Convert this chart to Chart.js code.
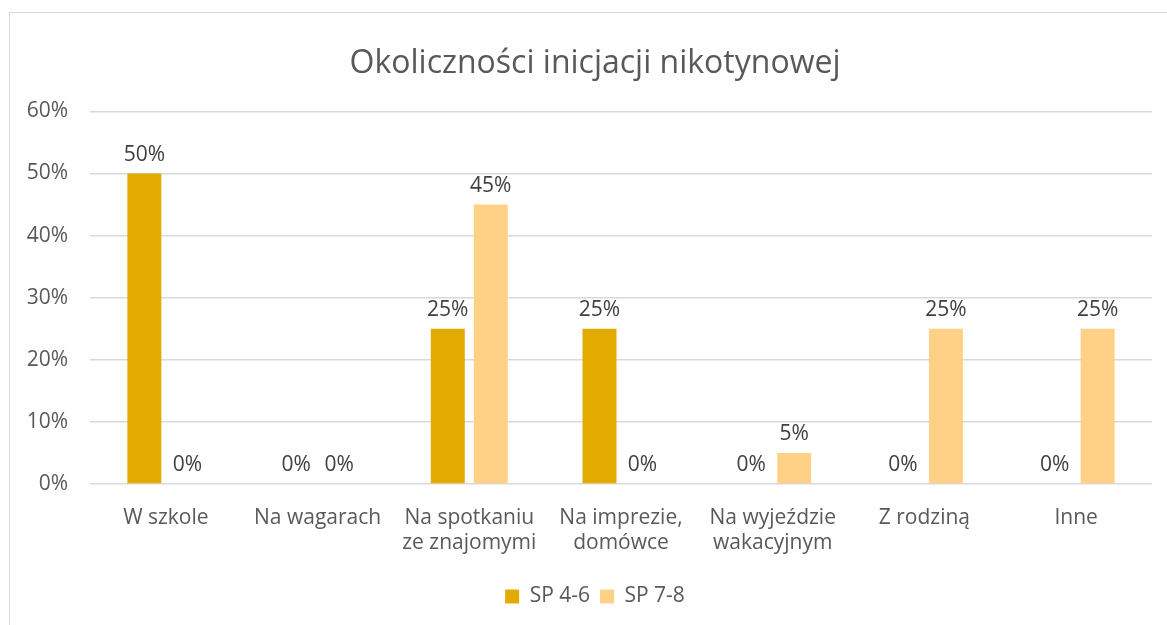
<!DOCTYPE html>
<html>
<head>
<meta charset="utf-8">
<script src="https://cdn.jsdelivr.net/npm/chart.js@4"></script>
<style>
  html, body { margin: 0; padding: 0; background: #fff; overflow: hidden; }
  #frame {
    position: absolute; left: 9px; top: 12px;
    width: 1170px; height: 612px;
    border: 1px solid #d9d9d9;
  }
</style>
</head>
<body>
<div id="frame"><canvas id="myChart"></canvas></div>
<script>
/* data */
var categories = [
  'W szkole',
  'Na wagarach',
  ['Na spotkaniu', 'ze znajomymi'],
  ['Na imprezie,', 'domówce'],
  ['Na wyjeździe', 'wakacyjnym'],
  'Z rodziną',
  'Inne'
];
var sp46 = [50, 0, 25, 25, 0, 0, 0];
var sp78 = [0, 0, 45, 0, 5, 25, 25];
var yTicks = [0, 10, 20, 30, 40, 50, 60];

var textColor = '#595959';
var fontFamily = '"Open Sans", sans-serif';

/* value labels above each bar */
var barLabels = {
  id: 'barLabels',
  afterDatasetsDraw: function(chart) {
    var ctx = chart.ctx;
    ctx.save();
    ctx.font = '21px ' + fontFamily;
    ctx.fillStyle = '#404040';
    ctx.textAlign = 'center';
    ctx.textBaseline = 'alphabetic';
    chart.data.datasets.forEach(function(ds, i) {
      chart.getDatasetMeta(i).data.forEach(function(bar, j) {
        ctx.fillText(ds.data[j] + '%', bar.x, bar.y - 13);
      });
    });
    ctx.restore();
  }
};

var ctx = document.getElementById('myChart').getContext('2d');
var myChart = new Chart(ctx, {
  type: 'bar',
  data: {
    labels: categories,
    datasets: [
      {
        label: 'SP 4-6',
        data: sp46,
        backgroundColor: '#e3aa00',
        categoryPercentage: 0.567,
        barPercentage: 0.79
      },
      {
        label: 'SP 7-8',
        data: sp78,
        backgroundColor: '#ffd186',
        categoryPercentage: 0.567,
        barPercentage: 0.79
      }
    ]
  },
  options: {
    responsive: true,
    maintainAspectRatio: false,
    animation: false,
    layout: { padding: { left: 0, right: 0, top: 0, bottom: 8 } },
    plugins: {
      title: {
        display: true,
        text: 'Okoliczności inicjacji nikotynowej',
        color: textColor,
        font: { family: fontFamily, size: 32, weight: 'normal' },
        padding: { top: 32, bottom: 28 }
      },
      legend: {
        position: 'bottom',
        labels: {
          color: textColor,
          font: { family: fontFamily, size: 21 },
          boxWidth: 14,
          boxHeight: 14,
          padding: 10
        }
      },
      tooltip: { enabled: false }
    },
    scales: {
      x: {
        grid: { display: false, drawTicks: false },
        border: { display: false },
        ticks: {
          color: textColor,
          font: { family: fontFamily, size: 21 },
          padding: 21,
          maxRotation: 0,
          autoSkip: false
        },
        afterFit: function(scale) { scale.height = 92; }
      },
      y: {
        min: 0,
        max: 60,
        afterBuildTicks: function(scale) {
          scale.ticks = yTicks.map(function(v) { return { value: v }; });
        },
        grid: { color: '#d9d9d9', lineWidth: 1.5, drawTicks: false },
        border: { display: false },
        ticks: {
          color: textColor,
          font: { family: fontFamily, size: 21 },
          padding: 22,
          callback: function(v) { return v + '%'; }
        },
        afterFit: function(scale) { scale.width = 80; }
      },
      // empty right-hand axis keeps a margin after the plot
      yRight: {
        position: 'right',
        display: true,
        grid: { display: false, drawTicks: false },
        border: { display: false },
        ticks: { display: false },
        afterFit: function(scale) { scale.width = 28; }
      }
    }
  },
  plugins: [barLabels]
});
</script>
</body>
</html>
